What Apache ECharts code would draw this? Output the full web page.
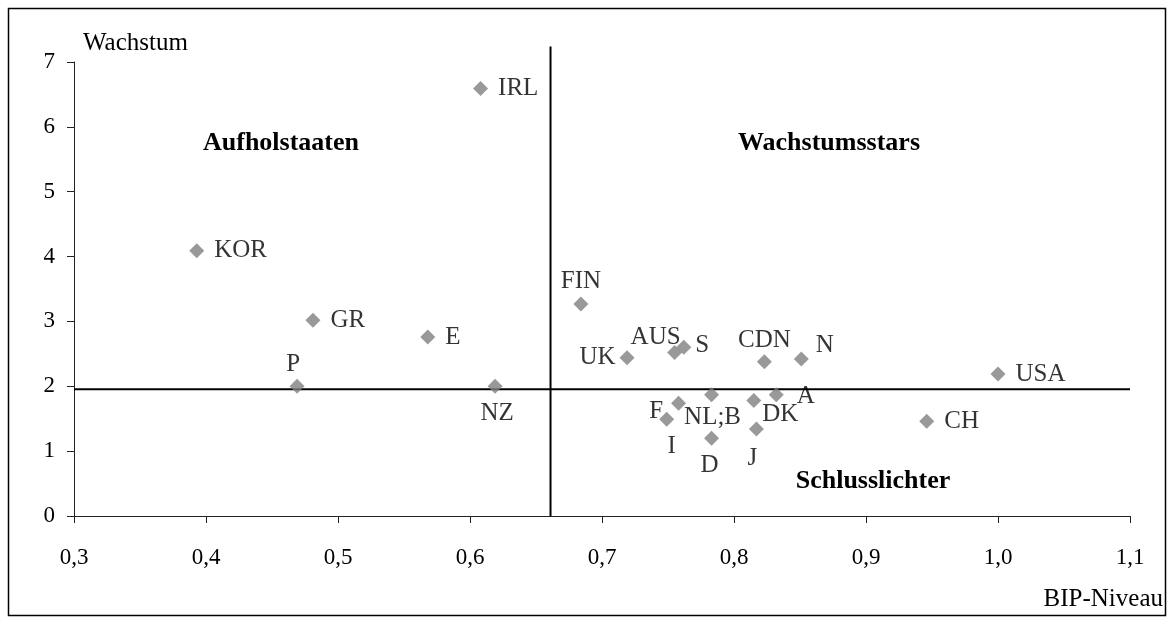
<!DOCTYPE html>
<html><head><meta charset="utf-8">
<script src="https://cdn.jsdelivr.net/npm/echarts@6/dist/echarts.min.js"></script>
<style>html,body{margin:0;padding:0;background:#fff}#c{width:1174px;height:624px}</style>
</head><body><div id="c"></div>
<script>
// ---- data ----
const countries = ['IRL','KOR','GR','E','P','NZ','FIN','UK','AUS','S','CDN','N','USA','CH','F','I','NL;B','D','DK','A','J'];
const bipNiveau = [0.608,0.393,0.481,0.568,0.469,0.619,0.684,0.719,0.755,0.762,0.823,0.851,1.000,0.946,0.758,0.749,0.783,0.783,0.815,0.832,0.817];
const wachstum  = [6.59,4.09,3.02,2.76,2.00,2.00,3.27,2.44,2.52,2.60,2.38,2.42,2.19,1.46,1.74,1.49,1.87,1.20,1.78,1.87,1.34];
const xMin = 0.3, xMax = 1.1, xStep = 0.1;
const yMin = 0, yMax = 7, yStep = 1;
const dividerX = 0.661;      // BIP-Niveau split
const dividerXTop = 7.24;    // top end of vertical split line
const dividerY = 1.955;      // Wachstum split
const quadrantNames = ['Aufholstaaten','Wachstumsstars','Schlusslichter'];
const xAxisTitle = 'BIP-Niveau';
const yAxisTitle = 'Wachstum';

// ---- label styling (not data) ----
const labelStyle = {
  'IRL':{position:'right',distance:10},
  'KOR':{position:'right',distance:10},
  'GR':{position:'right',distance:10},
  'E':{position:'right',distance:10},
  'USA':{position:'right',distance:10},
  'CH':{position:'right',distance:10},
  'P':{position:'top',distance:2,offset:[-4,0]},
  'FIN':{position:'top',distance:2},
  'CDN':{position:'top',distance:1},
  'AUS':{position:'top',distance:-5,offset:[-19,0]},
  'NZ':{position:'bottom',distance:7,offset:[2,0]},
  'D':{position:'bottom',distance:7,offset:[-2,0]},
  'J':{position:'bottom',distance:9,offset:[-4,0]},
  'I':{position:'bottom',distance:7,offset:[5,0]},
  'NL;B':{position:'bottom',distance:3,offset:[1,0]},
  'UK':{position:'left',distance:4},
  'F':{position:'left',distance:8,offset:[0,8]},
  'DK':{position:'right',distance:1,offset:[0,14]},
  'A':{position:'right',distance:13,offset:[0,2]},
  'N':{position:'right',distance:7,offset:[0,-14]},
  'S':{position:'right',distance:4,offset:[0,-2]}
};
const FONT = '"Liberation Serif","Times New Roman",serif';

const points = countries.map((c,i)=>{
  const ls = labelStyle[c] || {position:'right',distance:10};
  return {name:c, value:[bipNiveau[i], wachstum[i]], label:Object.assign({show:true, formatter:c}, ls)};
});

const chart = echarts.init(document.getElementById('c'), null, {renderer:'canvas'});
chart.setOption({
  animation:false,
  backgroundColor:'#fff',
  grid:{left:74, right:44, top:62, bottom:108, containLabel:false},
  xAxis:{
    type:'value', min:xMin, max:xMax, interval:xStep,
    splitLine:{show:false},
    axisLine:{show:true, onZero:false, lineStyle:{color:'#222', width:1}},
    axisTick:{show:true, inside:false, length:7, lineStyle:{color:'#222'}},
    axisLabel:{margin:30, fontFamily:FONT, fontSize:23, color:'#000',
      formatter:v=>v.toFixed(1).replace('.',',')}
  },
  yAxis:{
    type:'value', min:yMin, max:yMax, interval:yStep,
    splitLine:{show:false},
    axisLine:{show:true, onZero:false, lineStyle:{color:'#222', width:1}},
    axisTick:{show:true, inside:false, length:7, lineStyle:{color:'#222'}},
    axisLabel:{margin:19, fontFamily:FONT, fontSize:23, color:'#000',
      formatter:v=>String(Math.round(v))}
  },
  series:[
    {type:'line', data:[[dividerX,yMin],[dividerX,dividerXTop]], symbol:'none', clip:false, silent:true,
      lineStyle:{color:'#000', width:2}, z:2},
    {type:'line', data:[[xMin,dividerY],[xMax,dividerY]], symbol:'none', clip:false, silent:true,
      lineStyle:{color:'#000', width:2}, z:2},
    {type:'scatter', data:points, symbol:'diamond', symbolSize:15, z:5,
      itemStyle:{color:'#7f7f7f'},
      label:{show:true, fontFamily:FONT, fontSize:25, color:'#000'}}
  ],
  graphic:[
    {type:'rect', shape:{x:8.5,y:8.5,width:1157,height:607}, style:{fill:null, stroke:'#000', lineWidth:1.5}, z:-1, silent:true},
    {type:'text', x:83, y:43, style:{text:yAxisTitle, font:'25px '+FONT, fill:'#000', align:'left', verticalAlign:'middle'}},
    {type:'text', x:1163, y:599, style:{text:xAxisTitle, font:'25px '+FONT, fill:'#000', align:'right', verticalAlign:'middle'}},
    {type:'text', x:281, y:143, style:{text:quadrantNames[0], font:'bold 26px '+FONT, fill:'#000', align:'center', verticalAlign:'middle'}},
    {type:'text', x:829, y:143, style:{text:quadrantNames[1], font:'bold 26px '+FONT, fill:'#000', align:'center', verticalAlign:'middle'}},
    {type:'text', x:873, y:481, style:{text:quadrantNames[2], font:'bold 26px '+FONT, fill:'#000', align:'center', verticalAlign:'middle'}}
  ]
});
</script>
</body></html>
